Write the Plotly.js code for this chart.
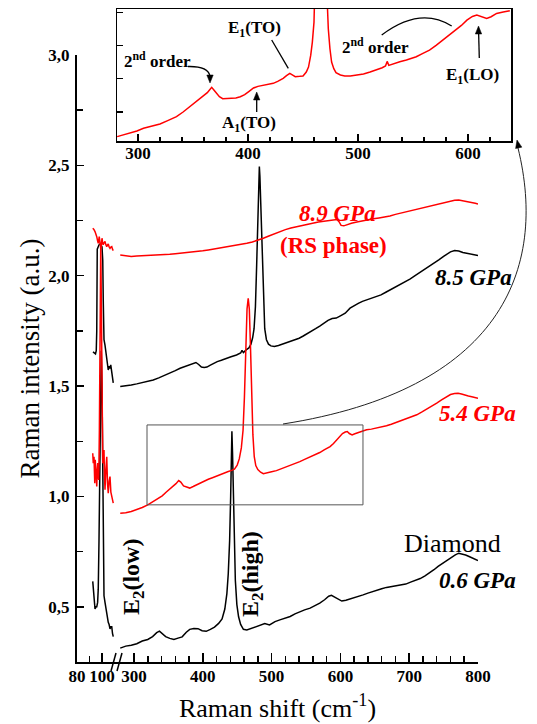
<!DOCTYPE html>
<html><head><meta charset="utf-8">
<script src="https://cdn.plot.ly/plotly-3.0.1.min.js"></script>
<style>html,body{margin:0;padding:0;background:#fff}#chart{width:537px;height:724px}</style>
</head><body><div id="chart"></div>
<script>
// ---------- data (Raman shift in cm-1, intensity in a.u.) ----------
const p06LowX = [92.6,93.5,94.4,95.2,95.8,96.5,97.0,97.6,98.2,98.8,99.4,100.0,100.6,101.2,101.6,102.4,103.2,104.1,105.0,105.7,106.4,107.1,107.8,108.4,109.0];
const p06LowY = [0.615,0.55,0.49,0.50,0.50,0.52,0.58,0.80,1.15,1.50,1.66,1.50,1.10,0.75,0.55,0.52,0.49,0.47,0.43,0.42,0.40,0.41,0.41,0.38,0.365];
const p54LowX = [92.6,93.0,93.6,94.2,94.6,95.2,95.8,96.2,96.6,97.0,97.4,97.9,98.4,99.0,99.6,100.1,100.6,101.2,101.6,102.0,102.4,103.1,103.8,104.4,105.0,105.7,106.4,107.1,107.8,108.4,109.0];
const p54LowY = [1.196,1.151,1.18,1.06,1.166,1.10,1.045,1.12,1.151,1.09,1.075,1.30,1.75,2.14,1.80,1.35,1.15,1.19,1.21,1.09,1.03,1.12,1.18,1.06,1.015,1.07,1.09,1.02,1.0,0.99,0.97];
const p85LowX = [92.8,93.8,94.8,95.4,95.8,96.2,96.8,97.6,98.4,99.2,100.0,100.6,101.0,101.6,102.4,103.1,103.8,104.4,105.0,105.6,106.3,107.0,107.8,108.4,109.0];
const p85LowY = [1.655,1.65,1.646,1.66,1.75,2.12,2.135,2.14,2.144,2.14,2.13,2.07,1.89,1.71,1.686,1.66,1.62,1.60,1.573,1.59,1.58,1.596,1.56,1.537,1.515];
const p89LowX = [92.6,93.5,94.4,95.1,95.8,96.4,97.0,97.8,98.4,99.0,99.5,100.0,100.5,101.0,101.7,102.4,103.1,103.8,104.4,105.0,105.7,106.4,107.1,107.8,108.4,109.0];
const p89LowY = [2.215,2.21,2.20,2.19,2.177,2.16,2.147,2.177,2.15,2.124,2.14,2.17,2.15,2.14,2.15,2.155,2.14,2.132,2.14,2.144,2.13,2.124,2.13,2.132,2.12,2.114];

const p06HighX = [280,288,296,304,312,320,327,333,337,341,346,352,358,364,370,376,381,387,393,399,405,411,417,423,428,432,435,437,439,440.5,441.5,442.3,443.2,444.3,445.7,447.3,449.5,452,455,459,464,470,476,483,490,497,505,512,520,527,534,541,548,556,563,570,577,583,587,592,597,602,608,614,620,627,633,640,647,653,660,667,674,681,688,695,702,709,716,723,730,736,742,749,755,761,767,772,777,782,787,792,797,800];
const p06HighY = [0.313,0.322,0.326,0.333,0.345,0.352,0.365,0.383,0.39,0.378,0.365,0.357,0.352,0.358,0.364,0.385,0.398,0.402,0.401,0.392,0.389,0.398,0.408,0.425,0.445,0.49,0.56,0.65,0.80,1.0,1.2,1.295,1.2,1.0,0.80,0.62,0.51,0.455,0.42,0.398,0.395,0.402,0.41,0.418,0.424,0.418,0.433,0.441,0.448,0.456,0.468,0.478,0.486,0.494,0.505,0.517,0.532,0.548,0.552,0.543,0.535,0.526,0.53,0.535,0.54,0.546,0.554,0.562,0.57,0.577,0.582,0.588,0.592,0.594,0.598,0.603,0.612,0.62,0.628,0.64,0.653,0.668,0.683,0.698,0.712,0.725,0.735,0.743,0.74,0.735,0.728,0.72,0.714,0.71];
const p54HighX = [280,288,296,304,312,320,327,334,341,347,352,357,361,365,368,372,377,381,386,391,396,402,408,414,420,426,432,437,442,446,450,453,456,458.5,460.5,462.5,464.3,466,467.6,469.3,471,472.8,474.8,477,480,484,488,494,500,507,514,520,527,534,541,548,556,563,570,577,585,590,595,599,603,607,610,613,617,621,625,631,638,645,652,660,667,674,681,689,696,703,711,718,725,733,740,747,754,760,766,771,776,781,786,791,796,800];
const p54HighY = [0.924,0.926,0.932,0.94,0.95,0.962,0.975,0.99,1.003,1.02,1.033,1.045,1.058,1.072,1.065,1.048,1.042,1.038,1.045,1.053,1.06,1.069,1.078,1.085,1.093,1.099,1.106,1.113,1.118,1.124,1.142,1.17,1.22,1.30,1.45,1.68,1.85,1.898,1.85,1.68,1.45,1.28,1.18,1.14,1.122,1.11,1.103,1.106,1.112,1.117,1.125,1.133,1.143,1.15,1.158,1.168,1.178,1.188,1.199,1.212,1.226,1.24,1.256,1.272,1.285,1.292,1.294,1.285,1.279,1.284,1.289,1.296,1.302,1.305,1.309,1.314,1.32,1.327,1.335,1.343,1.35,1.36,1.37,1.382,1.395,1.408,1.423,1.438,1.453,1.462,1.466,1.468,1.464,1.458,1.455,1.452,1.448,1.445];
const p85HighX = [280,288,296,304,312,320,328,336,344,352,360,367,374,381,386,390,394,398,402,406,411,416,421,427,434,441,449,455,457,459,463,467,470,472.5,474.5,476.5,478.3,480,481.5,482.2,483,484.5,486.2,488,490,492.5,495.5,499,504,510,516,522,528,534,540,546,552,558,564,570,576,582,588,594,600,607,614,620,626,632,638,645,652,659,666,673,680,687,694,701,708,715,722,729,736,743,750,755,760,766,772,778,784,790,795,800];
const p85HighY = [1.498,1.500,1.505,1.51,1.515,1.522,1.528,1.537,1.547,1.558,1.57,1.581,1.59,1.596,1.603,1.607,1.598,1.586,1.584,1.586,1.595,1.604,1.611,1.617,1.626,1.633,1.641,1.65,1.662,1.652,1.664,1.673,1.69,1.72,1.76,1.86,2.05,2.30,2.45,2.495,2.45,2.30,2.05,1.86,1.76,1.71,1.69,1.682,1.679,1.684,1.69,1.697,1.703,1.71,1.717,1.727,1.737,1.747,1.76,1.772,1.786,1.798,1.806,1.808,1.818,1.83,1.853,1.865,1.875,1.884,1.89,1.897,1.905,1.913,1.925,1.937,1.948,1.958,1.972,1.985,1.999,2.013,2.028,2.043,2.058,2.072,2.088,2.1,2.108,2.114,2.112,2.105,2.101,2.098,2.095,2.092];
const p89HighX = [280,288,296,304,312,320,328,336,344,352,360,368,376,384,392,400,408,416,424,432,440,448,456,464,472,480,488,496,504,512,520,528,536,544,552,560,568,576,584,590,595,598,601,605,610,616,624,632,640,648,656,664,672,680,688,696,704,712,720,728,736,744,752,760,766,772,778,784,790,796,800];
const p89HighY = [2.094,2.09,2.087,2.089,2.09,2.09,2.092,2.093,2.095,2.097,2.1,2.102,2.104,2.106,2.109,2.113,2.117,2.121,2.125,2.129,2.133,2.137,2.142,2.147,2.153,2.16,2.17,2.18,2.19,2.2,2.209,2.216,2.222,2.228,2.233,2.238,2.243,2.247,2.25,2.253,2.255,2.245,2.228,2.226,2.232,2.238,2.243,2.249,2.254,2.258,2.262,2.266,2.271,2.278,2.284,2.289,2.294,2.299,2.305,2.311,2.317,2.324,2.331,2.338,2.342,2.343,2.34,2.336,2.332,2.328,2.325];

// inset: 5.4 GPa spectrum, magnified (arbitrary units)
const insetX = [281,287,293,299,305,312,320,327,335,341,347,352,356,360,363,365,367,369,371.5,374,377,381,385,389,393,397,401,405,409,414,418,423,427,432,435,438,441,443,447,450,453,455,457,458.5,460,461.5,463,465,466.5,468,470,471.5,473,474.5,476,478,480,484,488,493,499,505,511,517,522,525,526.5,528,533,538,544,549,553,559,565,571,577,583,589,594,599,604,608,612,617,621,626,632,638];
const insetY = [0.26,0.31,0.36,0.43,0.51,0.57,0.64,0.74,0.86,1.0,1.16,1.28,1.41,1.5,1.58,1.66,1.74,1.66,1.56,1.46,1.40,1.40,1.41,1.42,1.46,1.52,1.62,1.72,1.77,1.81,1.83,1.86,1.92,2.01,2.09,2.16,2.10,2.06,2.07,2.08,2.2,2.35,2.7,3.1,3.7,4.6,7,11,12.5,10,6,4.5,3.5,2.9,2.5,2.3,2.18,2.11,2.08,2.08,2.1,2.14,2.2,2.26,2.33,2.38,2.52,2.4,2.46,2.51,2.56,2.61,2.66,2.76,2.86,3.0,3.16,3.3,3.46,3.6,3.76,3.87,3.91,3.86,3.81,3.86,3.96,4.0,4.04];

// tick labels
const yTickVals = [0.5,1.0,1.5,2.0,2.5,3.0];
const yTickText = ['0,5','1,0','1,5','2,0','2,5','3,0'];
const xLowTicks = [80,100];
const xHighTicks = [300,400,500,600,700,800];
const xInsetTicks = [300,400,500,600];

// ---------- layout geometry ----------
const W=537,H=724,L=77,R=26,T=9,B=62;
const pw=W-L-R, ph=H-T-B;
const PX=p=>(p-L)/pw, PY=p=>(H-B-p)/ph;
const RED='#ff0000', BLK='#000000';
const SERIF='Liberation Serif';
const tickFont={family:SERIF,size:17,color:'#000',weight:'bold'};

function tr(x,y,xa,ya,c){return {type:'scatter',mode:'lines',x:x,y:y,xaxis:xa,yaxis:ya,line:{color:c,width:1.5},hoverinfo:'skip',showlegend:false};}
const data=[
  tr(p06LowX,p06LowY,'x','y',BLK), tr(p06HighX,p06HighY,'x2','y',BLK),
  tr(p85LowX,p85LowY,'x','y',BLK), tr(p85HighX,p85HighY,'x2','y',BLK),
  tr(p54LowX,p54LowY,'x','y',RED), tr(p54HighX,p54HighY,'x2','y',RED),
  tr(p89LowX,p89LowY,'x','y',RED), tr(p89HighX,p89HighY,'x2','y',RED),
  tr(insetX,insetY,'x4','y2',RED),
  {type:'scatter',mode:'lines',x:[],y:[],xaxis:'x3',yaxis:'y',showlegend:false,hoverinfo:'skip'}
];

function range(a,b,s,skip){const r=[];for(let v=a;v<=b+1e-9;v+=s){if(!skip.includes(Math.round(v)))r.push(v);}return r;}

// pixel helpers for decorations
const P=(x,y)=>`${PX(x)},${PY(y)}`;
function head(tx,ty,dx,dy){const n=Math.hypot(dx,dy);dx/=n;dy/=n;const len=8,w=3.2;
  const bx=tx-dx*len,by=ty-dy*len,nx=-dy,ny=dx;
  return {type:'path',xref:'paper',yref:'paper',path:`M ${P(tx,ty)} L ${P(bx+nx*w,by+ny*w)} L ${P(bx-nx*w,by-ny*w)} Z`,fillcolor:'#000',line:{color:'#000',width:0.5}};}
function seg(x0,y0,x1,y1,w,c){return {type:'line',xref:'paper',yref:'paper',x0:PX(x0),y0:PY(y0),x1:PX(x1),y1:PY(y1),line:{color:c||'#000',width:w}};}
function pth(d,w,c){return {type:'path',xref:'paper',yref:'paper',path:d,line:{color:c||'#000',width:w}};}

const layout={
  width:W,height:H,margin:{l:L,r:R,t:T,b:B},
  paper_bgcolor:'#fff',plot_bgcolor:'rgba(0,0,0,0)',showlegend:false,
  font:{family:SERIF,color:'#000'},
  xaxis:{domain:[0,PX(116)],range:[80,80+(116-77)/1.25],anchor:'y',tickmode:'array',tickvals:xLowTicks,ticktext:xLowTicks.map(String),
    ticks:'inside',ticklen:9,tickwidth:1.5,tickcolor:'#000',showline:true,linewidth:2,linecolor:'#000',showgrid:false,zeroline:false,
    minor:{tickmode:'array',tickvals:[90],ticks:'inside',ticklen:6,tickwidth:1.5,tickcolor:'#000',showgrid:false},
    tickfont:tickFont,ticklabelstandoff:-2,fixedrange:true},
  xaxis2:{domain:[PX(116),PX(478)],range:[300-(134-116)/0.688,800],anchor:'y',tickmode:'array',tickvals:xHighTicks,ticktext:xHighTicks.map(String),
    ticks:'inside',ticklen:9,tickwidth:1.5,tickcolor:'#000',showline:true,linewidth:2,linecolor:'#000',showgrid:false,zeroline:false,
    minor:{tickmode:'array',tickvals:range(320,780,20,[400,500,600,700]),ticks:'inside',ticklen:6,tickwidth:1.5,tickcolor:'#000',showgrid:false},
    tickfont:tickFont,ticklabelstandoff:-2,fixedrange:true},
  xaxis3:{domain:[0,PX(478)],range:[0,1],anchor:'y',showline:false,showgrid:false,zeroline:false,ticks:'',showticklabels:false,fixedrange:true,
    title:{text:'Raman shift (cm<sup>-1</sup>)',font:{family:SERIF,size:26,color:'#000'},standoff:36}},
  yaxis:{domain:[0,PY(55)],range:[0.25,3.0],anchor:'x',tickmode:'array',tickvals:yTickVals,ticktext:yTickText,
    ticks:'inside',ticklen:7,tickwidth:1.5,tickcolor:'#000',showline:true,linewidth:2,linecolor:'#000',showgrid:false,zeroline:false,
    minor:{tickmode:'array',tickvals:[0.75,1.25,1.75,2.25,2.75],ticks:'inside',ticklen:6,tickwidth:1.5,tickcolor:'#000',showgrid:false},
    tickfont:tickFont,ticklabelstandoff:2,fixedrange:true,
    title:{text:'Raman intensity (a.u.)',font:{family:SERIF,size:27,color:'#000'},standoff:1}},
  xaxis4:{domain:[PX(117),1],range:[300-(138-117)/1.1,300+(511-138)/1.1],anchor:'y2',tickmode:'array',tickvals:xInsetTicks,ticktext:xInsetTicks.map(String),
    ticks:'inside',ticklen:7,tickwidth:1.2,tickcolor:'#000',showline:true,mirror:true,linewidth:1.5,linecolor:'#000',showgrid:false,zeroline:false,
    minor:{tickmode:'array',tickvals:range(320,620,20,[400,500,600]),ticks:'inside',ticklen:4,tickwidth:1.2,tickcolor:'#000',showgrid:false},
    tickfont:tickFont,ticklabelstandoff:-4,fixedrange:true},
  yaxis2:{domain:[PY(141),1],range:[0.129,4.093],anchor:'x4',tickmode:'array',tickvals:[1,2,3,4],showticklabels:false,
    ticks:'inside',ticklen:6,tickwidth:1.2,tickcolor:'#000',showline:true,mirror:true,linewidth:1.5,linecolor:'#000',showgrid:false,zeroline:false,fixedrange:true},
  shapes:[
    {type:'rect',xref:'x2',yref:'y',x0:318.9,x1:632.8,y0:0.962,y1:1.324,line:{color:'#555',width:1}},
    pth(`M ${P(283,424)} C ${P(500,390)} ${P(548,270)} ${P(518,148)}`,1,'#222'),
    head(517,140,-0.22,-1),
    seg(111,671,116,653,1.5), seg(117,671,122,653,1.5),
    // inset pointers
    pth(`M ${P(188,66.5)} Q ${P(208,66)} ${P(210,76)}`,1.3),
    head(210,83,0,1),
    seg(271.7,40,288.3,68.3,1.3),
    seg(256.7,112,256.7,98,1.3), head(256.7,92,0,-1),
    pth(`M ${P(381.7,35)} Q ${P(420,6)} ${P(451.7,26)}`,1.3),
    seg(479.3,58,478.6,32,1.3), head(478.5,26,0,-1)
  ],
  annotations:[]
};

function txt(t,px,py,size,color,opts){return Object.assign({text:t,xref:'paper',yref:'paper',x:PX(px),y:PY(py),xanchor:'center',yanchor:'middle',showarrow:false,
  font:{family:SERIF,size:size,color:color,weight:'bold'}},opts||{});}
const A=layout.annotations;
A.push(txt('8.9 GPa',337,213,23,RED,{font:{family:SERIF,size:23,color:RED,weight:'bold',style:'italic'}}));
A.push(txt('(RS phase)',333,245,23,RED));
A.push(txt('8.5 GPa',473,277,23,BLK,{font:{family:SERIF,size:23,color:BLK,weight:'bold',style:'italic'}}));
A.push(txt('5.4 GPa',477,413,23,RED,{font:{family:SERIF,size:23,color:RED,weight:'bold',style:'italic'}}));
A.push(txt('Diamond',452,543,26,BLK,{font:{family:SERIF,size:26,color:BLK,weight:'normal'}}));
A.push(txt('0.6 GPa',477,580,23,BLK,{font:{family:SERIF,size:23,color:BLK,weight:'bold',style:'italic'}}));
A.push(txt('E<sub>2</sub>(low)',133,577,24,BLK,{textangle:-90}));
A.push(txt('E<sub>2</sub>(high)',252,574,24,BLK,{textangle:-90}));
A.push(txt('2<sup>nd</sup> order',157,60,17,BLK));
A.push(txt('E<sub>1</sub>(TO)',254,29,17,BLK));
A.push(txt('A<sub>1</sub>(TO)',249,124,17,BLK));
A.push(txt('2<sup>nd</sup> order',375,46,17,BLK));
A.push(txt('E<sub>1</sub>(LO)',472,76,17,BLK));

Plotly.newPlot('chart',data,layout,{staticPlot:true,displayModeBar:false});
</script></body></html>
